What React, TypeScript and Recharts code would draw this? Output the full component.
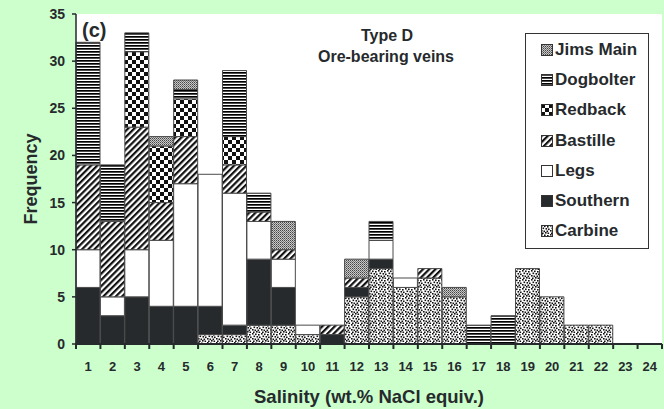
import React from "react"
import { BarChart, Bar, XAxis, YAxis, Legend, CartesianGrid, Label } from "recharts"

// salinity classes (wt.% NaCl equiv.)
const categories = [
  "1", "2", "3", "4", "5", "6", "7", "8", "9", "10", "11", "12",
  "13", "14", "15", "16", "17", "18", "19", "20", "21", "22", "23", "24",
]

// frequencies per deposit, stacked bottom to top
const carbine = [0, 0, 0, 0, 0, 1, 1, 2, 2, 1, 0, 5, 8, 6, 7, 5, 0, 0, 8, 5, 2, 2, 0, 0]
const southern = [6, 3, 5, 4, 4, 3, 1, 7, 4, 0, 1, 1, 1, 0, 0, 0, 0, 0, 0, 0, 0, 0, 0, 0]
const legs = [4, 2, 5, 7, 13, 14, 14, 4, 3, 1, 0, 0, 2, 1, 0, 0, 0, 0, 0, 0, 0, 0, 0, 0]
const bastille = [9, 8, 13, 4, 5, 0, 3, 1, 1, 0, 1, 1, 0, 0, 1, 0, 0, 0, 0, 0, 0, 0, 0, 0]
const redback = [0, 0, 8, 6, 4, 0, 3, 0, 0, 0, 0, 0, 0, 0, 0, 0, 0, 0, 0, 0, 0, 0, 0, 0]
const dogbolter = [13, 6, 2, 0, 1, 0, 7, 2, 0, 0, 0, 0, 2, 0, 0, 0, 2, 3, 0, 0, 0, 0, 0, 0]
const jimsMain = [0, 0, 0, 1, 1, 0, 0, 0, 3, 0, 0, 2, 0, 0, 0, 1, 0, 0, 0, 0, 0, 0, 0, 0]

const yTicks = [0, 5, 10, 15, 20, 25, 30, 35]

const FONT = "'Liberation Sans', Arial, Helvetica, sans-serif"
const INK = "#262a2c"

const series = [
  { key: "carbine", name: "Carbine", fill: "url(#pat-carbine)" },
  { key: "southern", name: "Southern", fill: INK },
  { key: "legs", name: "Legs", fill: "#ffffff" },
  { key: "bastille", name: "Bastille", fill: "url(#pat-bastille)" },
  { key: "redback", name: "Redback", fill: "url(#pat-redback)" },
  { key: "dogbolter", name: "Dogbolter", fill: "url(#pat-dogbolter)" },
  { key: "jimsMain", name: "Jims Main", fill: "url(#pat-jims)" },
]

const data = categories.map((cat, i) => ({
  cat,
  carbine: carbine[i],
  southern: southern[i],
  legs: legs[i],
  bastille: bastille[i],
  redback: redback[i],
  dogbolter: dogbolter[i],
  jimsMain: jimsMain[i],
}))

// speckle positions for the Carbine fill
const speckles = [
  [0, 0], [3, 0.5], [6, 1], [1.5, 2.5], [4.5, 3], [7, 3.5], [0, 5],
  [2.5, 5.5], [5.5, 5.5], [1, 7.5], [4, 7], [6.5, 7.5],
]

const Patterns = () => (
  <svg width={0} height={0} style={{ position: "absolute" }}>
    <defs>
      <pattern id="pat-carbine" patternUnits="userSpaceOnUse" width={9} height={9}>
        <rect width={9} height={9} fill="#fff" />
        {speckles.map(([x, y], i) => (
          <rect key={i} x={x} y={y} width={1.6} height={1.6} fill="#111" />
        ))}
      </pattern>
      <pattern id="pat-bastille" patternUnits="userSpaceOnUse" width={4.4} height={10} patternTransform="rotate(45)">
        <rect width={4.4} height={10} fill="#fff" />
        <rect width={2.2} height={10} fill="#111" />
      </pattern>
      <pattern id="pat-redback" patternUnits="userSpaceOnUse" width={8} height={8}>
        <rect width={8} height={8} fill="#fff" />
        <rect width={4} height={4} fill="#111" />
        <rect x={4} y={4} width={4} height={4} fill="#111" />
      </pattern>
      <pattern id="pat-dogbolter" patternUnits="userSpaceOnUse" width={6} height={3}>
        <rect width={6} height={3} fill="#fff" />
        <rect width={6} height={1.7} fill="#000" />
      </pattern>
      <pattern id="pat-jims" patternUnits="userSpaceOnUse" width={2} height={2}>
        <rect width={2} height={2} fill="#c8c8c8" />
        <rect width={1} height={1} fill="#444" />
        <rect x={1} y={1} width={1} height={1} fill="#777" />
      </pattern>
    </defs>
  </svg>
)

const TICK_SIZE = 5
const TICK_MARGIN = 13

// ticks sit between the bars, labels under each bar
const XTick = (props: any) => {
  const { x, y, payload, index, visibleTicksCount } = props
  const band = 586 / categories.length
  const axisY = y - TICK_SIZE - TICK_MARGIN
  return (
    <g>
      <line x1={x - band / 2} x2={x - band / 2} y1={axisY} y2={axisY + TICK_SIZE} stroke={INK} strokeWidth={2} />
      {index === visibleTicksCount - 1 && (
        <line x1={x + band / 2} x2={x + band / 2} y1={axisY} y2={axisY + TICK_SIZE} stroke={INK} strokeWidth={2} />
      )}
      <text x={x} y={y} dy="0.71em" textAnchor="middle" fontFamily={FONT} fontWeight={700} fontSize={13} fill={INK}>
        {payload.value}
      </text>
    </g>
  )
}

const renderLegend = () => {
  const items = [...series].reverse()
  return (
    <div
      style={{
        boxSizing: "border-box",
        width: 124,
        height: 216,
        border: "1px solid #333",
        background: "#fff",
        padding: "1px 0 0 15px",
      }}
    >
      {items.map((s) => (
        <div
          key={s.key}
          style={{
            height: 30.2,
            display: "flex",
            alignItems: "center",
            fontFamily: FONT,
            fontWeight: 700,
            fontSize: 17,
            color: INK,
          }}
        >
          <svg width={12} height={12} style={{ marginRight: 2 }}>
            <rect x={0.5} y={0.5} width={11} height={11} fill={s.fill} stroke="#333" />
          </svg>
          {s.name}
        </div>
      ))}
    </div>
  )
}

export default function App() {
  return (
    <div style={{ position: "absolute", left: 0, top: 0, width: 664, height: 409, background: "#ccffcc" }}>
      <Patterns />
      <BarChart
        width={664}
        height={409}
        data={data}
        margin={{ top: 14, right: 2, bottom: 0, left: 0 }}
        barCategoryGap={0}
        barGap={0}
      >
        <CartesianGrid fill="#ffffff" horizontal={false} vertical={false} />
        <XAxis
          dataKey="cat"
          height={65}
          interval={0}
          tickLine={false}
          tickSize={TICK_SIZE}
          tickMargin={TICK_MARGIN}
          tick={<XTick />}
          axisLine={{ stroke: INK, strokeWidth: 2 }}
        >
          <Label
            content={(p: any) => {
              const vb = p.viewBox
              return (
                <text x={vb.x + vb.width / 2} y={vb.y + 59} textAnchor="middle" fontFamily={FONT} fontWeight={700} fontSize={18.5} fill={INK}>
                  Salinity (wt.% NaCl equiv.)
                </text>
              )
            }}
          />
        </XAxis>
        <XAxis xAxisId="top" dataKey="cat" orientation="top" height={0} tick={false} tickLine={false} axisLine={{ stroke: "#3c4242", strokeWidth: 1.5 }} />
        <YAxis
          domain={[0, 35]}
          ticks={yTicks}
          width={76}
          tickSize={4}
          tickMargin={7}
          tickLine={{ stroke: INK, strokeWidth: 1.5 }}
          axisLine={{ stroke: INK, strokeWidth: 1.5 }}
          tick={{ fontFamily: FONT, fontWeight: 700, fontSize: 14, fill: INK }}
        >
          <Label
            content={(p: any) => {
              const vb = p.viewBox
              const cy = vb.y + vb.height / 2
              return (
                <text x={36.5} y={cy} transform={`rotate(-90, 36.5, ${cy})`} textAnchor="middle" fontFamily={FONT} fontWeight={700} fontSize={18} fill={INK}>
                  Frequency
                </text>
              )
            }}
          />
        </YAxis>
        <YAxis yAxisId="right" orientation="right" width={0} tick={false} tickLine={false} axisLine={{ stroke: "#3c4242", strokeWidth: 1.5 }} />
        <Legend
          layout="vertical"
          align="center"
          verticalAlign="middle"
          content={renderLegend}
          wrapperStyle={{ left: 525, top: 33, width: 124, height: 216 }}
        />
        {series.map((s) => (
          <Bar
            key={s.key}
            dataKey={s.key}
            name={s.name}
            stackId="a"
            fill={s.fill}
            stroke="#4a4a4a"
            strokeWidth={1}
            isAnimationActive={false}
          />
        ))}
      </BarChart>
      <svg width={664} height={409} style={{ position: "absolute", left: 0, top: 0, pointerEvents: "none" }}>
        <text x={82} y={37} fontFamily={FONT} fontWeight={700} fontSize={20} fill={INK}>(c)</text>
        <text x={387} y={41} textAnchor="middle" fontFamily={FONT} fontWeight={700} fontSize={16} fill={INK}>Type D</text>
        <text x={386} y={62} textAnchor="middle" fontFamily={FONT} fontWeight={700} fontSize={16} fill={INK}>Ore-bearing veins</text>
      </svg>
    </div>
  )
}
